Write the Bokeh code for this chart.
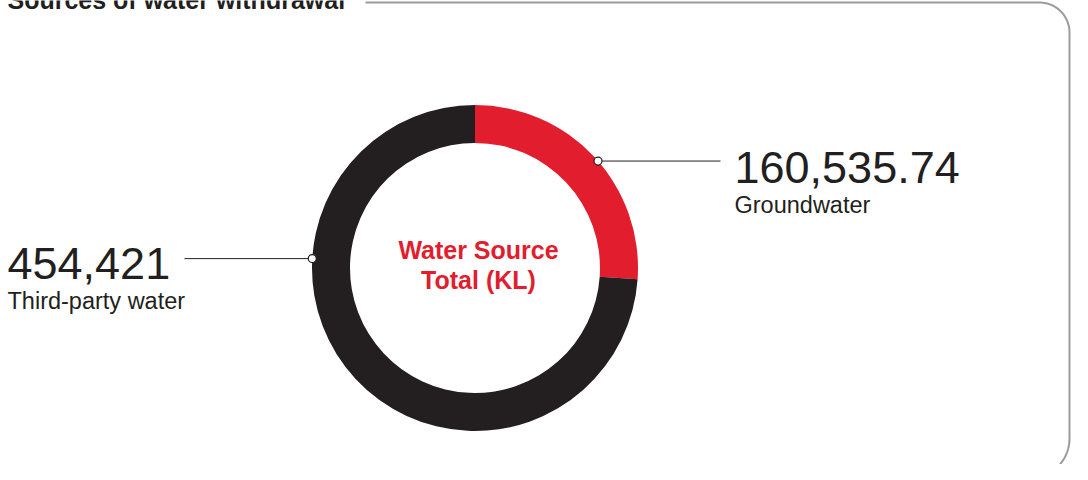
import numpy as np
from bokeh.plotting import figure
from bokeh.models import Range1d, ColumnDataSource
from bokeh.core.properties import value
from bokeh.embed import file_html
from bokeh.resources import INLINE

# ---- data ----
categories = ["Groundwater", "Third-party water"]
values = [160535.74, 454421]
value_labels = ["160,535.74", "454,421"]
colors = ["#e11d2e", "#231f20"]
title_text = "Sources of water withdrawal"
center_lines = ["Water Source", "Total (KL)"]

# ---- layout (screen-pixel helpers; donut centre at data origin) ----
W, H = 1072, 464
CX, CY = 474.5, 267.5    # donut centre in pixels
R_OUT, R_IN = 163, 125
BASE_K = 0.35            # baseline correction factor for text

def dx(sx):
    return sx - CX

def dy(sy):
    return CY - sy

def ty(sy, size):
    # text y so that alphabetic baseline lands at screen y = sy
    return CY - sy + BASE_K * size

p = figure(width=W, height=H, output_backend="svg", toolbar_location=None,
           x_range=Range1d(dx(0), dx(W)), y_range=Range1d(dy(H), dy(0)),
           min_border=0, outline_line_color=None, background_fill_color="white",
           border_fill_color="white")
p.axis.visible = False
p.grid.visible = False

# ---- donut ----
vals = np.array(values, dtype=float)
frac = vals / vals.sum()
ends = np.pi / 2 - np.concatenate([[0], np.cumsum(frac)[:-1]]) * 2 * np.pi
starts = ends - frac * 2 * np.pi
src = ColumnDataSource(dict(start=starts, end=ends, color=colors, cat=categories))
p.annular_wedge(x=0, y=0, inner_radius=R_IN, outer_radius=R_OUT,
                start_angle="start", end_angle="end", color="color",
                line_color=None, source=src, direction="anticlock")

# ---- leaders ----
label_angles = np.deg2rad([41.0, 176.7])
leader_end_x = [dx(720), dx(184)]
px = R_OUT * np.cos(label_angles)
py = R_OUT * np.sin(label_angles)
for i in range(2):
    p.line([px[i], leader_end_x[i]], [py[i], py[i]], line_color="#231f20", line_width=1)
p.scatter(px, py, size=8, fill_color="white", line_color="#231f20", line_width=1.2)

font = value("Liberation Sans")
# value labels
p.text(x=[dx(734), dx(7)], y=[ty(183, 45), ty(279, 45)], text=value_labels,
       text_font=font, text_font_size="45px", text_color="#231f20",
       text_baseline="alphabetic", text_align="left")
p.text(x=[dx(734), dx(7)], y=[ty(213, 23.5), ty(309, 23.5)], text=categories,
       text_font=font, text_font_size="23.5px", text_color="#231f20",
       text_baseline="alphabetic", text_align="left")

# centre text
p.text(x=[dx(478), dx(478)], y=[ty(258, 25), ty(288, 25)], text=center_lines,
       text_font=font, text_font_size="25px", text_font_style="bold",
       text_color="#e11d2e", text_baseline="alphabetic", text_align="center")

# title (cut at the top edge, as in the original)
p.text(x=[dx(7)], y=[ty(8, 25)], text=[title_text], text_font=font,
       text_font_size="25px", text_font_style="bold", text_color="#231f20",
       text_baseline="alphabetic", text_align="left")

# ---- frame (rounded border) ----
top_y, right_x, bot_y = 2.0, 1069.0, 478.0
r1, r2 = 30.0, 40.0
fx, fy = [365.0, right_x - r1], [top_y, top_y]
t = np.linspace(-np.pi / 2, 0, 30)
fx += list(right_x - r1 + r1 * np.cos(t)); fy += list(top_y + r1 + r1 * np.sin(t))
t = np.linspace(0, np.pi / 2, 30)
fx += list(right_x - r2 + r2 * np.cos(t)); fy += list(bot_y - r2 + r2 * np.sin(t))
fx += [300.0]; fy += [bot_y]
p.line([dx(v) for v in fx], [dy(v) for v in fy], line_color="#9b9b9b", line_width=2)

open("out.html", "w").write(file_html(p, INLINE))
